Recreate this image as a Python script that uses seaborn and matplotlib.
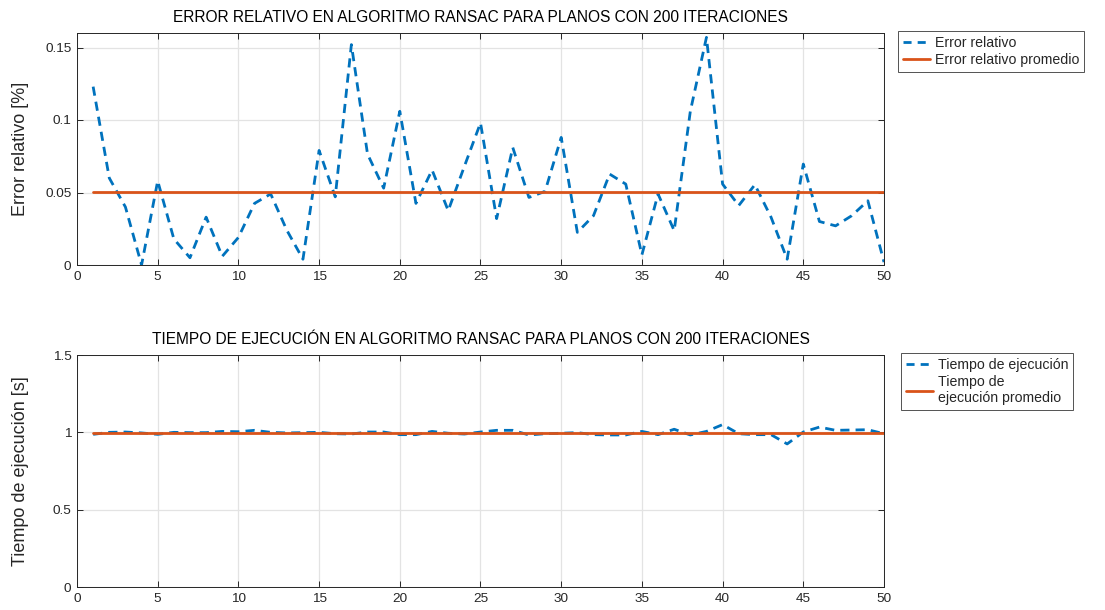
import numpy as np
import pandas as pd
import matplotlib
matplotlib.use("Agg")
import matplotlib.pyplot as plt
import seaborn as sns
from matplotlib.ticker import FuncFormatter

# Iteration index of each run
iteraciones = list(range(1, 51))

# Relative error per run [%]
error_relativo = [
    0.123, 0.060, 0.040, 0.000, 0.058, 0.018, 0.005, 0.033, 0.006, 0.019,
    0.0425, 0.049, 0.024, 0.004, 0.079, 0.047, 0.152, 0.0765, 0.053, 0.106,
    0.0425, 0.0655, 0.0375, 0.068, 0.098, 0.032, 0.081, 0.0466, 0.0508, 0.088,
    0.0225, 0.034, 0.0627, 0.0558, 0.007, 0.049, 0.0237, 0.106, 0.157, 0.0558,
    0.041, 0.0554, 0.033, 0.004, 0.0696, 0.030, 0.027, 0.034, 0.0443, 0.002,
]

# Execution time per run [s]
tiempo_ejecucion = [
    0.987, 1.000, 1.002, 0.996, 0.987, 1.000, 0.998, 0.998, 1.006, 1.004,
    1.013, 1.000, 0.996, 0.998, 1.000, 0.991, 0.989, 1.002, 1.002, 0.985,
    0.985, 1.006, 0.994, 0.989, 1.002, 1.013, 1.013, 0.983, 0.991, 0.994,
    0.998, 0.985, 0.983, 0.983, 1.006, 0.985, 1.020, 0.983, 1.006, 1.050,
    0.991, 0.985, 0.985, 0.925, 1.002, 1.034, 1.013, 1.015, 1.017, 0.991,
]

titulo_error = "ERROR RELATIVO EN ALGORITMO RANSAC PARA PLANOS CON 200 ITERACIONES"
titulo_tiempo = "TIEMPO DE EJECUCIÓN EN ALGORITMO RANSAC PARA PLANOS CON 200 ITERACIONES"
etiquetas_error = ["Error relativo", "Error relativo promedio"]
etiquetas_tiempo = ["Tiempo de ejecución", "Tiempo de\nejecución promedio"]

AZUL = "#0072BD"
NARANJA = "#D95319"

sns.set_theme(style="ticks")
plt.rcParams["font.family"] = ["Liberation Sans", "DejaVu Sans"]

W, H = 1105, 610
fig = plt.figure(figsize=(W / 100, H / 100), dpi=100)
fig.patch.set_facecolor("white")


def panel(rect, valores, etiquetas, titulo, ylabel, ylim, yticks, leg_xy):
    ax = fig.add_axes(rect)
    df = pd.DataFrame({"it": iteraciones, "v": valores})
    df["prom"] = np.mean(valores)
    sns.lineplot(data=df, x="it", y="v", ax=ax, color=AZUL, linewidth=2.0,
                 label=etiquetas[0])
    ax.lines[-1].set_dashes((3.3, 2.2))
    sns.lineplot(data=df, x="it", y="prom", ax=ax, color=NARANJA, linewidth=2.0,
                 label=etiquetas[1])
    ax.set_xlim(0, 50)
    ax.set_ylim(*ylim)
    ax.set_xticks(range(0, 51, 5))
    ax.set_yticks(yticks)
    ax.yaxis.set_major_formatter(FuncFormatter(lambda v, p: f"{v:g}"))
    ax.grid(True, color="#e3e3e3", linewidth=0.9)
    ax.set_axisbelow(True)
    for s in ax.spines.values():
        s.set_visible(True)
        s.set_color("#262626")
        s.set_linewidth(0.7)
    ax.tick_params(direction="in", length=4, width=0.7, colors="#262626",
                   labelsize=9.7, top=True, right=True, pad=4)
    ax.set_xlabel("")
    ax.set_ylabel(ylabel, fontsize=13, color="#262626")
    ax.yaxis.set_label_coords(-0.059, 0.5)
    ax.set_title(titulo, fontsize=11.2, color="black", pad=8)
    leg = ax.legend(loc="upper left", bbox_to_anchor=leg_xy,
                    bbox_transform=fig.transFigure, borderaxespad=0,
                    frameon=True, fancybox=False, fontsize=10.2,
                    handlelength=1.9, handletextpad=0.35, borderpad=0.35,
                    labelspacing=0.22)
    leg.get_frame().set_edgecolor("#262626")
    leg.get_frame().set_linewidth(0.7)
    leg.get_lines()[0].set_dashes((2.9, 2.2))
    return ax


left = 77 / W
width = (884 - 77) / W
height = 232 / H

panel([left, (H - 265) / H, width, height], error_relativo, etiquetas_error,
      titulo_error, "Error relativo [%]", (0, 0.16), [0, 0.05, 0.1, 0.15],
      (898 / W, 1 - 31 / H))
panel([left, (H - 587) / H, width, height], tiempo_ejecucion, etiquetas_tiempo,
      titulo_tiempo, "Tiempo de ejecución [s]", (0, 1.5), [0, 0.5, 1, 1.5],
      (901 / W, 1 - 353 / H))

fig.savefig("out.png", dpi=100)
